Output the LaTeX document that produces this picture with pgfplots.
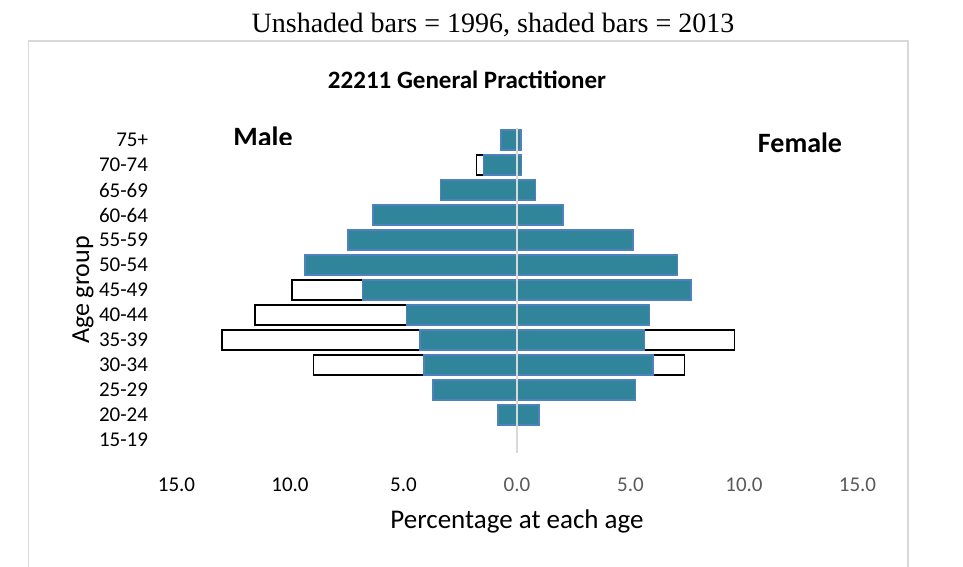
\documentclass[border=0pt]{standalone}
\usepackage{pgfplots}
\pgfplotsset{compat=1.18}
\usepackage{fontspec}
\setmainfont{Carlito}
\newfontfamily\seriffont{Liberation Serif}
\definecolor{barfill}{RGB}{49,133,155}
\definecolor{barline}{RGB}{79,129,189}
\definecolor{tickgray}{RGB}{89,89,89}
\definecolor{framegray}{RGB}{217,217,217}
\begin{document}
\begin{tikzpicture}
\useasboundingbox (0pt,0pt) rectangle (963pt,566pt);
\draw[framegray, line width=1.5pt] (28.7pt,-5pt) -- (28.7pt,525pt) -- (908pt,525pt) -- (908pt,-5pt);
\node[font=\seriffont\fontsize{28}{32}\selectfont, anchor=center] at (493pt,541pt) {Unshaded bars = 1996, shaded bars = 2013};
\node[font=\bfseries\fontsize{25}{28}\selectfont] at (467pt,486pt) {22211 General Practitioner};
\begin{axis}[
  at={(176.5pt,111pt)}, anchor=south west,
  scale only axis, width=681pt, height=330pt,
  xmin=-15, xmax=15, ymin=-0.6, ymax=12.6,
  axis line style={draw=none}, tick style={draw=none},
  xtick={-15,-10,-5,0,5,10,15},
  xticklabels={15.0,10.0,5.0,\textcolor{tickgray}{0.0},\textcolor{tickgray}{5.0},\textcolor{tickgray}{10.0},\textcolor{tickgray}{15.0}},
  ytick={0,1,2,3,4,5,6,7,8,9,10,11,12},
  yticklabels={15-19,20-24,25-29,30-34,35-39,40-44,45-49,50-54,55-59,60-64,65-69,70-74,75+},
  xticklabel style={font=\fontsize{21}{24}\selectfont, anchor=center, yshift=-30pt},
  yticklabel style={font=\fontsize{21}{24}\selectfont, anchor=east, inner sep=0pt, xshift=-24pt},
  xlabel={Percentage at each age},
  xlabel style={at={(axis description cs:0.5,0)}, anchor=center, yshift=-66pt, font=\fontsize{27}{30}\selectfont},
  ylabel={Age group},
  ylabel style={at={(axis description cs:0,0.5)}, anchor=center, yshift=93.5pt, font=\fontsize{26}{30}\selectfont},
  xbar, bar width=20pt,
]
% 1996 (unshaded)
\addplot[xbar, bar shift=0pt, fill=white, draw=black, line width=1.3pt] coordinates {
 (-0.25,1) (-3.0,2) (-8.97,3) (-13.0,4) (-11.54,5) (-9.91,6) (-6.4,7) (-4.7,8) (-5.5,9) (-3.0,10) (-1.79,11) (-0.5,12)};
\addplot[xbar, bar shift=0pt, fill=white, draw=black, line width=1.3pt] coordinates {
 (0.5,1) (3.6,2) (7.38,3) (9.59,4) (5.5,5) (2.9,6) (1.5,7) (0.8,8) (0.6,9) (0.3,10) (0.1,11) (0.05,12)};
% 2013 (shaded)
\addplot[xbar, bar shift=0pt, fill=barfill, draw=barline, line width=1.5pt] coordinates {
 (-0.84,1) (-3.70,2) (-4.09,3) (-4.28,4) (-4.86,5) (-6.81,6) (-9.33,7) (-7.44,8) (-6.35,9) (-3.36,10) (-1.47,11) (-0.71,12)};
\addplot[xbar, bar shift=0pt, fill=barfill, draw=barline, line width=1.5pt] coordinates {
 (0.96,1) (5.21,2) (5.98,3) (5.62,4) (5.83,5) (7.66,6) (7.08,7) (5.10,8) (2.03,9) (0.81,10) (0.20,11) (0.18,12)};
% zero line
\addplot[sharp plot, draw=framegray, line width=1.5pt] coordinates {(0,-0.5) (0,12.5)};
\end{axis}
\begin{scope}
\clip (200pt,421pt) rectangle (330pt,460pt);
\node[font=\bfseries\fontsize{28}{32}\selectfont] at (263pt,429pt) {Male};
\end{scope}
\node[font=\bfseries\fontsize{28}{32}\selectfont] at (800pt,423pt) {Female};
\end{tikzpicture}
\end{document}
